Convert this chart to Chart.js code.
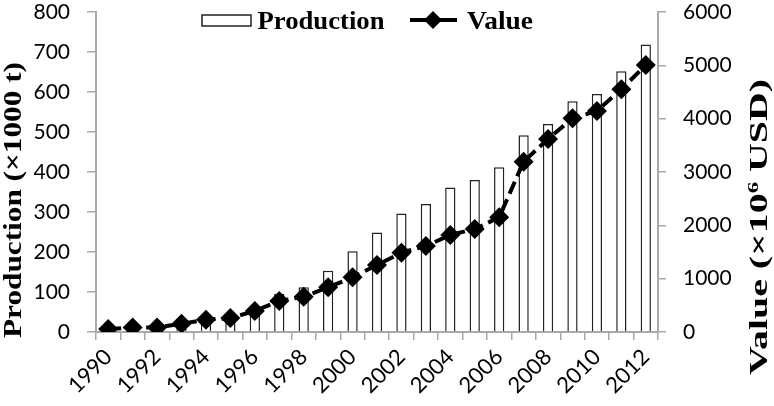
<!DOCTYPE html>
<html>
<head>
<meta charset="utf-8">
<script src="https://cdn.jsdelivr.net/npm/chart.js"></script>
<style>
  body { margin: 0; background: #fff; }
  #chart { display: block; }
</style>
</head>
<body>
<canvas id="chart" width="774" height="406"></canvas>
<script>
// Data
const years = ['1990', '1991', '1992', '1993', '1994', '1995', '1996', '1997', '1998', '1999', '2000', '2001',
  '2002', '2003', '2004', '2005', '2006', '2007', '2008', '2009', '2010', '2011', '2012'];
const shownYears = ['1990', '1992', '1994', '1996', '1998', '2000', '2002', '2004', '2006', '2008', '2010', '2012'];
// Production (x1000 t) - bars, left axis
const production = [5, 6, 8, 12, 26, 34, 63, 95, 112, 153, 202, 249,
  296, 320, 361, 380, 412, 492, 520, 577, 595, 652, 719];
// Value (x10^6 USD) - dashed line, right axis
const value = [56, 85, 85, 155, 230, 262, 394, 581, 662, 838, 1025, 1256,
  1487, 1612, 1819, 1931, 2150, 3194, 3619, 4006, 4144, 4550, 5006];
const leftTicks = [0, 100, 200, 300, 400, 500, 600, 700, 800];
const rightTicks = [0, 1000, 2000, 3000, 4000, 5000, 6000];

const axisGray = '#a9a9a9';
const tickFont = { family: 'Lato', size: 21 };

// draw text stretched to a given length along its direction
function drawStretched(ctx, parts, cx, cy, length, angle) {
  let total = 0;
  parts.forEach(p => {
    ctx.font = 'bold ' + p.size + 'px "Liberation Serif"';
    p.w = ctx.measureText(p.text).width;
    total += p.w;
  });
  ctx.save();
  ctx.translate(cx, cy);
  ctx.rotate(angle);
  ctx.scale(length / total, 1);
  ctx.textAlign = 'left';
  ctx.textBaseline = 'alphabetic';
  let x = -total / 2;
  parts.forEach(p => {
    ctx.font = 'bold ' + p.size + 'px "Liberation Serif"';
    ctx.fillText(p.text, x, 9 + (p.dy || 0));
    x += p.w;
  });
  ctx.restore();
}

// Axis titles and the legend inside the plot
const decorations = {
  id: 'decorations',
  afterDraw(chart) {
    const ctx = chart.ctx;
    ctx.save();
    ctx.fillStyle = '#000';

    drawStretched(ctx, [{ text: 'Production (×1000 t)', size: 26 }], 12, 200, 276, -Math.PI / 2);
    drawStretched(ctx, [
      { text: 'Value (×10', size: 26 },
      { text: '6', size: 15, dy: -9 },
      { text: ' USD)', size: 26 }
    ], 758, 227, 296, -Math.PI / 2);

    // legend: bar swatch
    ctx.strokeStyle = '#222';
    ctx.lineWidth = 1.5;
    ctx.strokeRect(202, 15, 49, 11);
    drawStretched(ctx, [{ text: 'Production', size: 25 }], 321, 20, 127, 0);

    // legend: line with diamond
    ctx.strokeStyle = '#000';
    ctx.lineWidth = 4;
    ctx.beginPath();
    ctx.moveTo(410, 20);
    ctx.lineTo(457, 20);
    ctx.stroke();
    ctx.beginPath();
    ctx.moveTo(433, 11); ctx.lineTo(442, 20); ctx.lineTo(433, 29); ctx.lineTo(424, 20);
    ctx.closePath();
    ctx.fill();
    drawStretched(ctx, [{ text: 'Value', size: 25 }], 500, 20, 66, 0);
    ctx.restore();
  }
};

// fix axis box sizes so the plot area sits where it does in the figure
function fixWidth(w) {
  return s => {
    s.width = w;
    s.paddingTop = 0;
    s.paddingBottom = 0;
  };
}

new Chart(document.getElementById('chart'), {
  data: {
    labels: years,
    datasets: [
      {
        type: 'line',
        label: 'Value',
        data: value,
        yAxisID: 'y1',
        order: 1,
        borderColor: '#000',
        borderWidth: 4,
        borderDash: [13, 6],
        tension: 0,
        pointStyle: 'rectRot',
        pointRadius: 10,
        pointBorderWidth: 0,
        pointBackgroundColor: '#000'
      },
      {
        type: 'bar',
        label: 'Production',
        data: production,
        yAxisID: 'y',
        order: 2,
        backgroundColor: '#fff',
        borderColor: '#222',
        borderWidth: 1.5,
        barPercentage: 0.42,
        categoryPercentage: 1.0
      }
    ]
  },
  options: {
    responsive: false,
    devicePixelRatio: 1,
    animation: false,
    layout: { autoPadding: false, padding: { top: 12, left: 0, right: 0, bottom: 0 } },
    plugins: {
      legend: { display: false },
      tooltip: { enabled: false }
    },
    scales: {
      x: {
        offset: true,
        grid: { offset: true, drawOnChartArea: false, color: axisGray, lineWidth: 1.5, tickLength: 8 },
        border: { color: axisGray, width: 2 },
        ticks: {
          color: '#000',
          font: { family: 'Lato', size: 22 },
          minRotation: 45,
          maxRotation: 45,
          autoSkip: false,
          padding: 4,
          callback: function(val) {
            const y = this.getLabelForValue(val);
            return shownYears.includes(y) ? y : '';
          }
        },
        afterFit: s => { s.height = 74; s.paddingLeft = 0; s.paddingRight = 0; }
      },
      y: {
        position: 'left',
        min: 0,
        max: 800,
        afterBuildTicks: s => { s.ticks = leftTicks.map(v => ({ value: v })); },
        grid: { drawOnChartArea: false, color: axisGray, lineWidth: 1.5, tickLength: 9 },
        border: { color: axisGray, width: 2 },
        ticks: { color: '#000', font: tickFont, padding: 17, callback: v => String(v) },
        afterFit: fixWidth(96)
      },
      y1: {
        position: 'right',
        min: 0,
        max: 6000,
        afterBuildTicks: s => { s.ticks = rightTicks.map(v => ({ value: v })); },
        grid: { drawOnChartArea: false, color: axisGray, lineWidth: 1.5, tickLength: 8 },
        border: { color: axisGray, width: 2 },
        ticks: { color: '#000', font: tickFont, padding: 17, callback: v => String(v) },
        afterFit: fixWidth(116)
      }
    }
  },
  plugins: [decorations]
});
</script>
</body>
</html>
